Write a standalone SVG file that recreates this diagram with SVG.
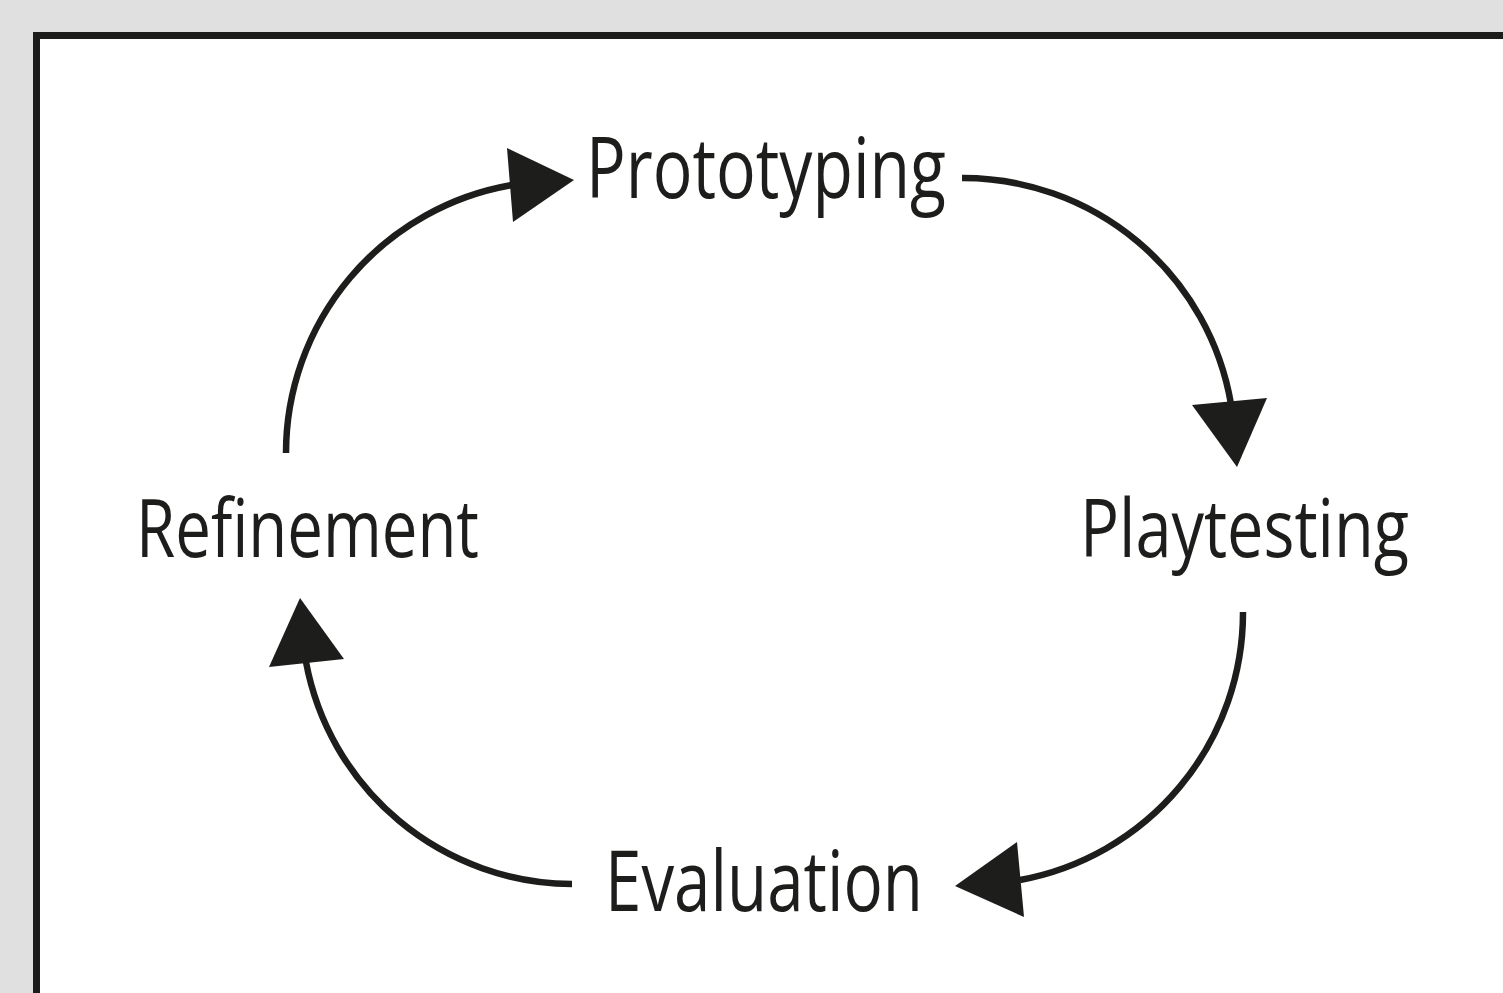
<svg xmlns="http://www.w3.org/2000/svg" width="1503" height="993" viewBox="0 0 1503 993">
<style>
.lbl{font-family:"Open Sans","Noto Sans","Liberation Sans",sans-serif;fill:#1d1d1b;}
.conn{fill:none;stroke:#1d1d1b;stroke-width:6.5;}
.head{fill:#1d1d1b;}
</style>
<rect x="0" y="0" width="1503" height="993" fill="#e0e0e0"/>
<rect x="36.5" y="35.5" width="1500" height="1000" fill="#ffffff" stroke="#1d1d1b" stroke-width="7"/>
<g id="connectors">
<path class="conn" d="M286,453 A272,272 0 0 1 512,185"/>
<path class="conn" d="M962,178 A272,272 0 0 1 1231,404"/>
<path class="conn" d="M1243,612 A272,272 0 0 1 1020,880"/>
<path class="conn" d="M572,884 A272,272 0 0 1 306,662"/>
<polygon class="head" points="507,148 574,180 513,222"/>
<polygon class="head" points="1192,405 1267,398 1237,467"/>
<polygon class="head" points="1017,842 955,886 1024,917"/>
<polygon class="head" points="300,598 269,667 344,659"/>
</g>
<g id="node-prototyping"><text class="lbl" x="586" y="198" font-size="84" textLength="360" lengthAdjust="spacingAndGlyphs">Prototyping</text></g>
<g id="node-playtesting"><text class="lbl" x="1080" y="557" font-size="80" textLength="329" lengthAdjust="spacingAndGlyphs">Playtesting</text></g>
<g id="node-evaluation"><text class="lbl" x="605" y="911" font-size="84" textLength="318" lengthAdjust="spacingAndGlyphs">Evaluation</text></g>
<g id="node-refinement"><text class="lbl" x="136" y="557" font-size="80" textLength="343" lengthAdjust="spacingAndGlyphs">Refinement</text></g>
</svg>
